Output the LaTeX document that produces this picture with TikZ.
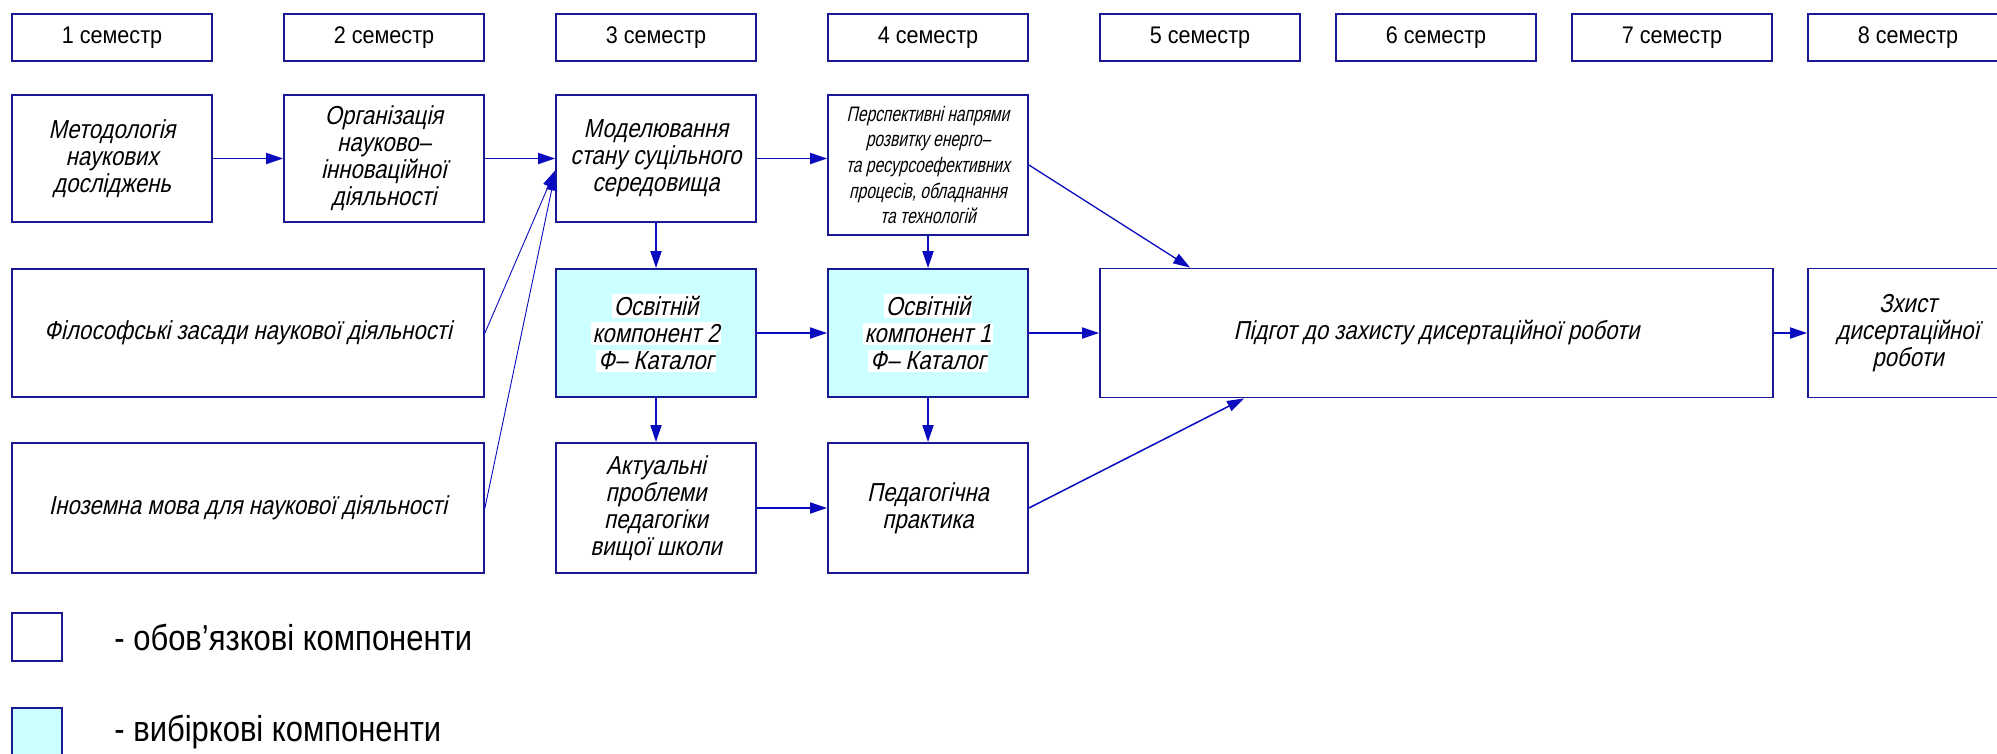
\documentclass[tikz,border=0pt]{standalone}
\usepackage{xcolor}
\usepackage{fontspec}
\usepackage{tikz}
\usetikzlibrary{shapes, arrows.meta}

\newfontfamily\semfont[FakeStretch=0.9]{Liberation Sans}
\newfontfamily\boxfont[FakeStretch=0.85,FakeSlant=0.22]{Liberation Sans}
\newfontfamily\perfont[FakeStretch=0.74,FakeSlant=0.22]{Liberation Sans}
\newfontfamily\legfont[FakeStretch=0.86]{Liberation Sans}

\definecolor{boxblue}{RGB}{25,25,150}
\definecolor{linkblue}{RGB}{10,10,190}
\definecolor{optcyan}{RGB}{204,255,255}

\newcommand{\whl}[1]{{\setlength{\fboxsep}{2pt}\colorbox{white}{#1}}}

\begin{document}
\begin{tikzpicture}[-,>={Triangle[length=17pt,width=11pt]},x=1pt,y=-1pt,
      node distance=272pt,
      sem node/.style={rectangle,draw=boxblue,line width=1.8pt,minimum width=200pt,
        minimum height=47pt,inner sep=0pt,font=\semfont\fontsize{24}{26}\selectfont},
      main node/.style={rectangle,draw=boxblue,line width=1.8pt,minimum width=200pt,
        minimum height=127pt,inner sep=0pt,align=center,font=\boxfont\fontsize{26}{27}\selectfont},
      opt node/.style={main node,fill=optcyan},
      legend text/.style={anchor=west,font=\legfont\fontsize{36}{40}\selectfont}]

    \useasboundingbox (0,0) rectangle (1997,753);

    % semesters
    \node[sem node] (s1) at (112,37.5) {1 семестр};
    \node[sem node] (s2) [right of=s1] {2 семестр};
    \node[sem node] (s3) [right of=s2] {3 семестр};
    \node[sem node] (s4) [right of=s3] {4 семестр};
    \node[sem node] (s5) [right of=s4] {5 семестр};
    \node[sem node] (s6) [right of=s5, node distance=236pt] {6 семестр};
    \node[sem node] (s7) [right of=s6, node distance=236pt] {7 семестр};
    \node[sem node] (s8) [right of=s7, node distance=236pt] {8 семестр};

    % components
    \node[main node] (met) [below of=s1, node distance=121pt] {Методологія\\наукових\\досліджень};
    \node[main node] (org) [below of=s2, node distance=121pt] {Організація\\науково–\\інноваційної\\діяльності};
    \node[main node] (mod) [below of=s3, node distance=121pt] {Моделювання\\стану суцільного\\середовища};
    \node[main node, minimum height=140pt, font=\perfont\fontsize{21}{25.6}\selectfont] (per)
        [below of=s4, node distance=127.5pt]
        {Перспективні напрями\\розвитку енерго–\\та ресурсоефективних\\процесів, обладнання\\та технологій};
    \node[opt node, minimum height=128pt] (opt2) [below of=mod, node distance=174.5pt]
        {\whl{Освітній}\\\whl{компонент 2}\\\whl{Ф– Каталог}};
    \node[opt node, minimum height=128pt] (opt1) [below of=per, node distance=168pt]
        {\whl{Освітній}\\\whl{компонент 1}\\\whl{Ф– Каталог}};
    \node[main node, minimum height=130pt] (akt) [below of=opt2, node distance=175pt]
        {Актуальні\\проблеми\\педагогіки\\вищої школи};
    \node[main node, minimum height=130pt] (ped) [below of=opt1, node distance=175pt]
        {Педагогічна\\практика};
    \node[main node, minimum width=472pt, minimum height=128pt] (fil) at (248,333)
        {Філософські засади наукової діяльності};
    \node[main node, minimum width=472pt, minimum height=130pt] (ino) at (248,508)
        {Іноземна мова для наукової діяльності};
    \node[main node, minimum width=673pt, minimum height=129pt] (prep)
        [right of=opt1, node distance=508.5pt] {Підгот до захисту дисертаційної роботи};
    \node[main node, minimum height=129pt] (def) [right of=prep, node distance=471.5pt]
        {Зхист\\дисертаційної\\роботи};

    % legend
    \node[main node, minimum width=50pt, minimum height=48pt] (leg1) at (37,637) {};
    \node[opt node, minimum width=50pt, minimum height=48pt] (leg2) at (37,732) {};
    \node[legend text] (leg1 text) at ([xshift=48pt]leg1.east) {- обов’язкові компоненти};
    \node[legend text] (leg2 text) at ([xshift=48pt]leg2.east) {- вибіркові компоненти};

    \path[->, color=linkblue, line width=1.8pt]
        (met) edge (org)
        (org) edge (mod)
        (mod.east) edge (mod.east -| per.west)
        (mod) edge (opt2)
        (per) edge (opt1)
        (opt2) edge (opt1)
        (opt2) edge (akt)
        (opt1) edge (ped)
        (akt) edge (ped)
        (opt1) edge (prep)
        (prep) edge (def)
        (fil.east) edge[line width=0.9pt] ([yshift=-12pt]mod.west)
        (ino.east) edge[line width=0.9pt] ([yshift=-15pt]mod.west)
        (per.east) edge[line width=1.3pt] ([xshift=91pt]prep.north west)
        (ped.east) edge[line width=1.5pt] ([xshift=145pt]prep.south west)
    ;
\end{tikzpicture}
\end{document}
